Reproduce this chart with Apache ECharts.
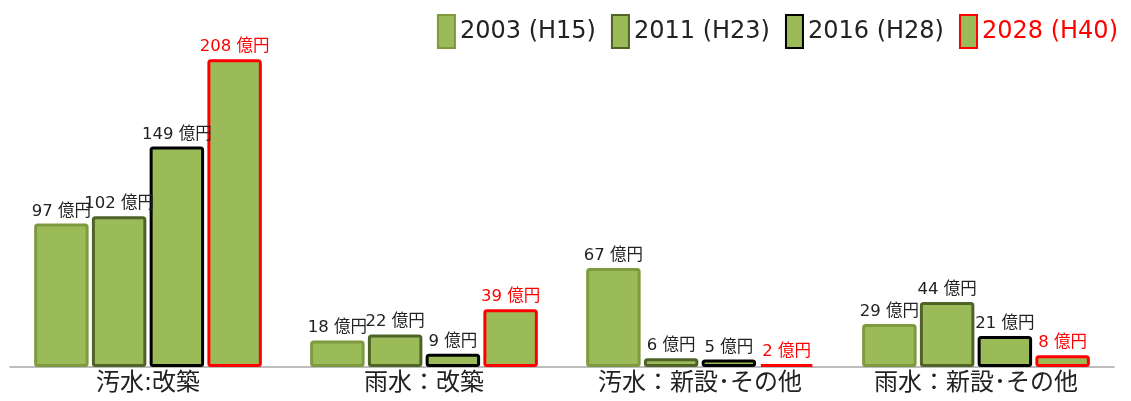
<!DOCTYPE html>
<html><head><meta charset="utf-8">
<script src="https://cdn.jsdelivr.net/npm/echarts@6/dist/echarts.min.js"></script>
<style>html,body{margin:0;padding:0;background:#fff}#c{width:1131px;height:401px}</style>
</head><body><div id="c"></div>
<script>
const categories = ['汚水:改築', '雨水：改築', '汚水：新設･その他', '雨水：新設･その他'];
const seriesNames = ['2003 (H15)', '2011 (H23)', '2016 (H28)', '2028 (H40)'];
const v2003 = [97, 18, 67, 29];
const v2011 = [102, 22, 6, 44];
const v2016 = [149, 9, 5, 21];
const v2028 = [208, 39, 2, 8];

const values = [v2003, v2011, v2016, v2028];
const borderColors = ['#7f9a3e', '#4f6228', '#000000', '#ff0000'];
const borderWidths = [3, 3, 3, 3];
const labelColors = ['#222', '#222', '#222', '#ff0000'];
const font = 'DejaVu Sans, "Noto Sans CJK JP", sans-serif';

const chart = echarts.init(document.getElementById('c'));
chart.setOption({
  animation: false,
  grid: {left: 10, right: 17, top: 12, bottom: 34},
  legend: {
    right: 8, top: 9, icon: 'rect',
    itemWidth: 17, itemHeight: 33, itemGap: 15,
    textStyle: {fontSize: 24, color: '#222', fontFamily: font},
    data: seriesNames.map((n, i) => i === 3 ? {name: n, textStyle: {color: '#ff0000'}} : {name: n})
  },
  xAxis: {
    type: 'category', data: categories,
    axisLine: {lineStyle: {color: '#a6a6a6', width: 1.5}},
    axisTick: {show: false},
    axisLabel: {fontSize: 24, color: '#222', fontFamily: font, margin: 5}
  },
  yAxis: {type: 'value', min: 0, max: 240, show: false, splitLine: {show: false}},
  series: seriesNames.map((n, i) => ({
    name: n, type: 'bar', data: values[i],
    barGap: '6%', barCategoryGap: '17.5%',
    itemStyle: {color: '#9bbb59', borderColor: borderColors[i], borderWidth: borderWidths[i], borderRadius: 2},
    label: {show: true, position: 'top', distance: 4, formatter: p => p.value + ' 億円',
      fontSize: 16.5, color: labelColors[i], fontFamily: font}
  }))
});
</script></body></html>
